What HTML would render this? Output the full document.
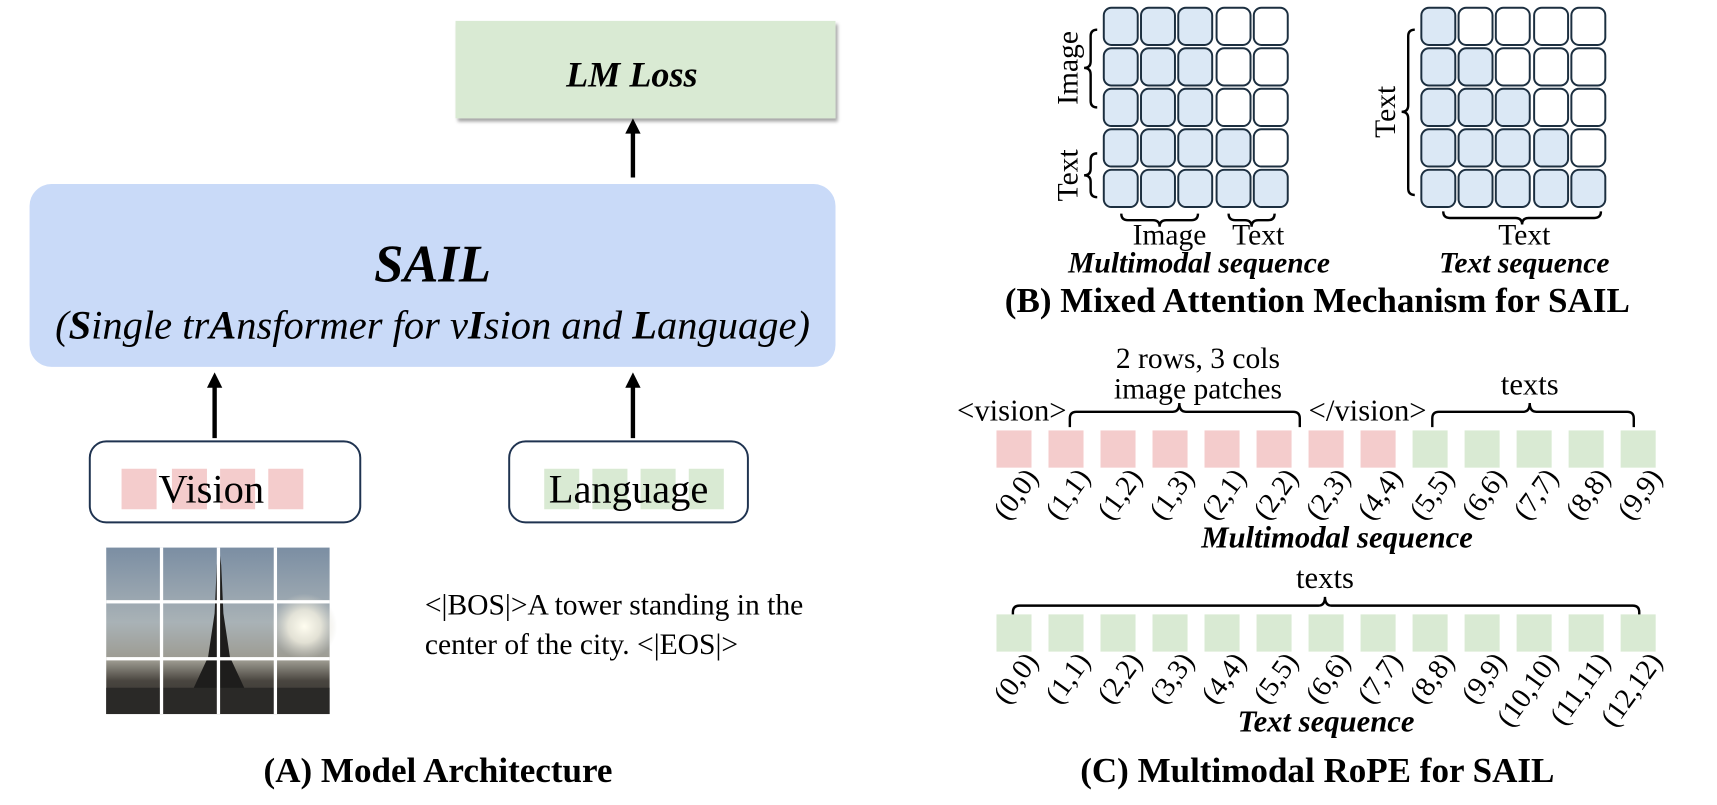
<!DOCTYPE html>
<html><head><meta charset="utf-8"><style>
html,body{margin:0;padding:0;background:#fff;}
svg{display:block;}
text{font-family:"Liberation Serif",serif;}
</style></head><body>
<svg width="1717" height="805" viewBox="0 0 1568 735" xmlns="http://www.w3.org/2000/svg">
<defs>
<linearGradient id="sky" x1="0" y1="0" x2="0" y2="1">
<stop offset="0" stop-color="#7b8ea3"/><stop offset="0.45" stop-color="#a9b2b6"/><stop offset="0.68" stop-color="#9c9a90"/><stop offset="0.8" stop-color="#4a4640"/><stop offset="1" stop-color="#2b2a28"/>
</linearGradient>
<radialGradient id="sun" cx="0.5" cy="0.5" r="0.5"><stop offset="0" stop-color="#fffdf0"/><stop offset="0.5" stop-color="#f2efe0" stop-opacity="0.8"/><stop offset="1" stop-color="#d8d6cc" stop-opacity="0"/></radialGradient>
<filter id="sh" x="-5%" y="-5%" width="112%" height="120%"><feDropShadow dx="2" dy="3" stdDeviation="1.5" flood-color="#000" flood-opacity="0.35"/></filter>
</defs>

<!-- Panel A -->
<rect x="416" y="19" width="347" height="89" fill="#d9ead3" filter="url(#sh)"/>
<text x="577" y="79" font-size="33" font-weight="bold" font-style="italic" text-anchor="middle">LM Loss</text>
<line x1="578" y1="162" x2="578" y2="118" stroke="#000" stroke-width="4"/>
<path d="M571,122 L578,108 L585,122 z" fill="#000"/>
<rect x="27" y="168" width="736" height="167" rx="20" fill="#c9daf8"/>
<text x="395" y="257" font-size="48" font-weight="bold" font-style="italic" text-anchor="middle">SAIL</text>
<text x="395" y="309" font-size="37" font-style="italic" text-anchor="middle">(<tspan font-weight="bold">S</tspan>ingle tr<tspan font-weight="bold">A</tspan>nsformer for v<tspan font-weight="bold">I</tspan>sion and <tspan font-weight="bold">L</tspan>anguage)</text>
<line x1="196" y1="400" x2="196" y2="352" stroke="#000" stroke-width="4"/>
<path d="M189,354 L196,340 L203,354 z" fill="#000"/>
<line x1="578" y1="400" x2="578" y2="352" stroke="#000" stroke-width="4"/>
<path d="M571,354 L578,340 L585,354 z" fill="#000"/>

<rect x="82" y="403" width="247" height="74" rx="15" fill="#fff" stroke="#1f3350" stroke-width="1.8"/>
<rect x="111" y="428" width="32" height="37" fill="#f4cccc"/>
<rect x="157" y="428" width="32" height="37" fill="#f4cccc"/>
<rect x="201" y="428" width="32" height="37" fill="#f4cccc"/>
<rect x="245" y="428" width="32" height="37" fill="#f4cccc"/>
<text x="193" y="459" font-size="37" text-anchor="middle">Vision</text>

<rect x="465" y="403" width="218" height="74" rx="15" fill="#fff" stroke="#1f3350" stroke-width="1.8"/>
<rect x="497" y="428" width="32" height="37" fill="#d9ead3"/>
<rect x="541" y="428" width="32" height="37" fill="#d9ead3"/>
<rect x="585" y="428" width="32" height="37" fill="#d9ead3"/>
<rect x="629" y="428" width="32" height="37" fill="#d9ead3"/>
<text x="574" y="459" font-size="37" text-anchor="middle">Language</text>

<!-- photo -->
<rect x="97" y="500" width="204" height="152" fill="url(#sky)"/>
<circle cx="278" cy="572" r="30" fill="url(#sun)"/>
<path d="M198,516 L200,500 L202,516 L204,560 L210,600 L224,630 L232,652 L212,652 Q200,625 188,652 L168,652 L176,630 L190,600 L196,560 z" fill="#1e1d1c"/>
<rect x="97" y="628" width="204" height="24" fill="#2a2927"/>
<g fill="#fff">
<rect x="146" y="500" width="3" height="152"/><rect x="198" y="500" width="3" height="152"/><rect x="250" y="500" width="3" height="152"/>
<rect x="97" y="548" width="204" height="3"/><rect x="97" y="600" width="204" height="3"/>
</g>
<text x="388" y="561" font-size="27">&lt;|BOS|&gt;A tower standing in the</text>
<text x="388" y="597" font-size="27">center of the city. &lt;|EOS|&gt;</text>
<text x="400" y="714" font-size="32" font-weight="bold" text-anchor="middle">(A) Model Architecture</text>

<!-- Panel B -->
<g stroke="#1c2f40" stroke-width="1.8">
<g fill="#dbe8f5">
<rect x="1008" y="7" width="31" height="34" rx="7"/><rect x="1042" y="7" width="31" height="34" rx="7"/><rect x="1076" y="7" width="31" height="34" rx="7"/>
<rect x="1008" y="44" width="31" height="34" rx="7"/><rect x="1042" y="44" width="31" height="34" rx="7"/><rect x="1076" y="44" width="31" height="34" rx="7"/>
<rect x="1008" y="81" width="31" height="34" rx="7"/><rect x="1042" y="81" width="31" height="34" rx="7"/><rect x="1076" y="81" width="31" height="34" rx="7"/>
<rect x="1008" y="118" width="31" height="34" rx="7"/><rect x="1042" y="118" width="31" height="34" rx="7"/><rect x="1076" y="118" width="31" height="34" rx="7"/><rect x="1111" y="118" width="31" height="34" rx="7"/>
<rect x="1008" y="155" width="31" height="34" rx="7"/><rect x="1042" y="155" width="31" height="34" rx="7"/><rect x="1076" y="155" width="31" height="34" rx="7"/><rect x="1111" y="155" width="31" height="34" rx="7"/><rect x="1145" y="155" width="31" height="34" rx="7"/>
</g>
<g fill="#fff">
<rect x="1111" y="7" width="31" height="34" rx="7"/><rect x="1145" y="7" width="31" height="34" rx="7"/>
<rect x="1111" y="44" width="31" height="34" rx="7"/><rect x="1145" y="44" width="31" height="34" rx="7"/>
<rect x="1111" y="81" width="31" height="34" rx="7"/><rect x="1145" y="81" width="31" height="34" rx="7"/>
<rect x="1145" y="118" width="31" height="34" rx="7"/>
</g>
<g fill="#dbe8f5">
<rect x="1298" y="7" width="31" height="34" rx="7"/>
<rect x="1298" y="44" width="31" height="34" rx="7"/><rect x="1332" y="44" width="31" height="34" rx="7"/>
<rect x="1298" y="81" width="31" height="34" rx="7"/><rect x="1332" y="81" width="31" height="34" rx="7"/><rect x="1366" y="81" width="31" height="34" rx="7"/>
<rect x="1298" y="118" width="31" height="34" rx="7"/><rect x="1332" y="118" width="31" height="34" rx="7"/><rect x="1366" y="118" width="31" height="34" rx="7"/><rect x="1401" y="118" width="31" height="34" rx="7"/>
<rect x="1298" y="155" width="31" height="34" rx="7"/><rect x="1332" y="155" width="31" height="34" rx="7"/><rect x="1366" y="155" width="31" height="34" rx="7"/><rect x="1401" y="155" width="31" height="34" rx="7"/><rect x="1435" y="155" width="31" height="34" rx="7"/>
</g>
<g fill="#fff">
<rect x="1332" y="7" width="31" height="34" rx="7"/><rect x="1366" y="7" width="31" height="34" rx="7"/><rect x="1401" y="7" width="31" height="34" rx="7"/><rect x="1435" y="7" width="31" height="34" rx="7"/>
<rect x="1366" y="44" width="31" height="34" rx="7"/><rect x="1401" y="44" width="31" height="34" rx="7"/><rect x="1435" y="44" width="31" height="34" rx="7"/>
<rect x="1401" y="81" width="31" height="34" rx="7"/><rect x="1435" y="81" width="31" height="34" rx="7"/>
<rect x="1435" y="118" width="31" height="34" rx="7"/>
</g>
</g>
<g fill="none" stroke="#000" stroke-width="2.2">
<path d="M1002,27 Q996,27 996,33 L996,56 Q996,62 990,62 Q996,62 996,68 L996,92 Q996,98 1002,98"/>
<path d="M1002,140 Q996,140 996,146 L996,154 Q996,160 990,160 Q996,160 996,166 L996,174 Q996,180 1002,180"/>
<path d="M1292,27 Q1286,27 1286,33 L1286,96 Q1286,102 1280,102 Q1286,102 1286,108 L1286,172 Q1286,178 1292,178"/>
<path d="M1024,195 Q1024,201 1030,201 L1053,201 Q1059,201 1059,207 Q1059,201 1065,201 L1088,201 Q1094,201 1094,195"/>
<path d="M1122,195 Q1122,201 1128,201 L1137,201 Q1143,201 1143,207 Q1143,201 1149,201 L1158,201 Q1164,201 1164,195"/>
<path d="M1318,193 Q1318,199 1324,199 L1384,199 Q1390,199 1390,205 Q1390,199 1396,199 L1456,199 Q1462,199 1462,193"/>
</g>
<text transform="translate(984,62) rotate(-90)" font-size="27" text-anchor="middle">Image</text>
<text transform="translate(984,160) rotate(-90)" font-size="27" text-anchor="middle">Text</text>
<text transform="translate(1274,102) rotate(-90)" font-size="27" text-anchor="middle">Text</text>
<text x="1068" y="223" font-size="27" text-anchor="middle">Image</text>
<text x="1149" y="223" font-size="27" text-anchor="middle">Text</text>
<text x="1392" y="223" font-size="27" text-anchor="middle">Text</text>
<text x="1095" y="249" font-size="27" font-weight="bold" font-style="italic" text-anchor="middle">Multimodal sequence</text>
<text x="1392" y="249" font-size="27" font-weight="bold" font-style="italic" text-anchor="middle">Text sequence</text>
<text x="1203" y="285" font-size="32" font-weight="bold" text-anchor="middle">(B) Mixed Attention Mechanism for SAIL</text>

<!-- Panel C -->
<text x="1094" y="336" font-size="27" text-anchor="middle">2 rows, 3 cols</text>
<text x="1094" y="364" font-size="27" text-anchor="middle">image patches</text>
<text x="874" y="384" font-size="28">&lt;vision&gt;</text>
<text x="1195" y="384" font-size="28">&lt;/vision&gt;</text>
<text x="1397" y="360" font-size="28" text-anchor="middle">texts</text>
<text x="1210" y="537" font-size="28" text-anchor="middle">texts</text>
<g fill="none" stroke="#000" stroke-width="2.2">
<path d="M977,390 L977,382 Q977,376 983,376 L1071,376 Q1077,376 1077,368 Q1077,376 1083,376 L1181,376 Q1187,376 1187,382 L1187,390"/>
<path d="M1308,390 L1308,382 Q1308,376 1314,376 L1391,376 Q1397,376 1397,368 Q1397,376 1403,376 L1486,376 Q1492,376 1492,382 L1492,390"/>
<path d="M925,567 L925,559 Q925,553 931,553 L1204,553 Q1210,553 1210,545 Q1210,553 1216,553 L1491,553 Q1497,553 1497,559 L1497,567"/>
</g>
<g fill="#f4cccc">
<rect x="910" y="393" width="32" height="34"/><rect x="957.5" y="393" width="32" height="34"/><rect x="1005" y="393" width="32" height="34"/><rect x="1052.5" y="393" width="32" height="34"/>
<rect x="1100" y="393" width="32" height="34"/><rect x="1147.5" y="393" width="32" height="34"/><rect x="1195" y="393" width="32" height="34"/><rect x="1242.5" y="393" width="32" height="34"/>
</g>
<g fill="#d9ead3">
<rect x="1290" y="393" width="32" height="34"/><rect x="1337.5" y="393" width="32" height="34"/><rect x="1385" y="393" width="32" height="34"/><rect x="1432.5" y="393" width="32" height="34"/><rect x="1480" y="393" width="32" height="34"/>
<rect x="910" y="561" width="32" height="34"/><rect x="957.5" y="561" width="32" height="34"/><rect x="1005" y="561" width="32" height="34"/><rect x="1052.5" y="561" width="32" height="34"/>
<rect x="1100" y="561" width="32" height="34"/><rect x="1147.5" y="561" width="32" height="34"/><rect x="1195" y="561" width="32" height="34"/><rect x="1242.5" y="561" width="32" height="34"/>
<rect x="1290" y="561" width="32" height="34"/><rect x="1337.5" y="561" width="32" height="34"/><rect x="1385" y="561" width="32" height="34"/><rect x="1432.5" y="561" width="32" height="34"/><rect x="1480" y="561" width="32" height="34"/>
</g>
<g font-size="26" text-anchor="end">
<text transform="translate(949,436) rotate(-54)">(0,0)</text>
<text transform="translate(996.5,436) rotate(-54)">(1,1)</text>
<text transform="translate(1044,436) rotate(-54)">(1,2)</text>
<text transform="translate(1091.5,436) rotate(-54)">(1,3)</text>
<text transform="translate(1139,436) rotate(-54)">(2,1)</text>
<text transform="translate(1186.5,436) rotate(-54)">(2,2)</text>
<text transform="translate(1234,436) rotate(-54)">(2,3)</text>
<text transform="translate(1281.5,436) rotate(-54)">(4,4)</text>
<text transform="translate(1329,436) rotate(-54)">(5,5)</text>
<text transform="translate(1376.5,436) rotate(-54)">(6,6)</text>
<text transform="translate(1424,436) rotate(-54)">(7,7)</text>
<text transform="translate(1471.5,436) rotate(-54)">(8,8)</text>
<text transform="translate(1519,436) rotate(-54)">(9,9)</text>

<text transform="translate(949,604) rotate(-54)">(0,0)</text>
<text transform="translate(996.5,604) rotate(-54)">(1,1)</text>
<text transform="translate(1044,604) rotate(-54)">(2,2)</text>
<text transform="translate(1091.5,604) rotate(-54)">(3,3)</text>
<text transform="translate(1139,604) rotate(-54)">(4,4)</text>
<text transform="translate(1186.5,604) rotate(-54)">(5,5)</text>
<text transform="translate(1234,604) rotate(-54)">(6,6)</text>
<text transform="translate(1281.5,604) rotate(-54)">(7,7)</text>
<text transform="translate(1329,604) rotate(-54)">(8,8)</text>
<text transform="translate(1376.5,604) rotate(-54)">(9,9)</text>
<text transform="translate(1424,604) rotate(-54)">(10,10)</text>
<text transform="translate(1471.5,604) rotate(-54)">(11,11)</text>
<text transform="translate(1519,604) rotate(-54)">(12,12)</text>
</g>
<text x="1221" y="500" font-size="28" font-weight="bold" font-style="italic" text-anchor="middle">Multimodal sequence</text>
<text x="1211" y="668" font-size="28" font-weight="bold" font-style="italic" text-anchor="middle">Text sequence</text>
<text x="1203" y="714" font-size="32" font-weight="bold" text-anchor="middle">(C) Multimodal RoPE for SAIL</text>
</svg>
</body></html>
